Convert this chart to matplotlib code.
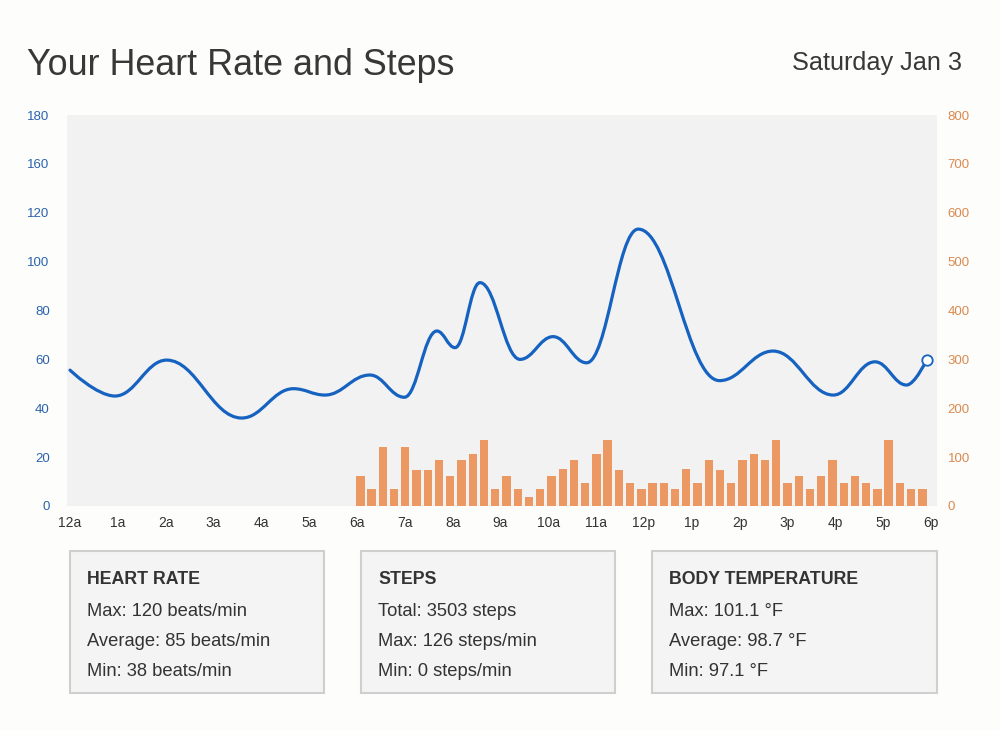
import matplotlib.pyplot as plt
import numpy as np
from matplotlib.patches import Rectangle, PathPatch
from matplotlib.path import Path

plt.rcParams['font.family'] = ['Liberation Sans', 'DejaVu Sans']

# heart rate readings (hour of day, beats/min)
hr_hours = [0.0, 0.94, 2.02, 3.59, 4.67, 5.33, 6.27, 6.99, 7.67, 8.05, 8.57,
            9.41, 10.1, 10.8, 11.88, 13.58, 14.7, 15.96, 16.83, 17.49, 17.91]
hr_values = [55.6, 45, 59.7, 36, 48, 45.4, 53.6, 44.5, 71.6, 64.8, 91.4,
             60, 69.3, 58.6, 113.3, 51.3, 63.4, 45.4, 59, 49.5, 59.7]

# steps per interval, from 6a to 6p
steps = [61, 35, 120, 35, 120, 73, 73, 95, 61, 95,
         106, 135, 35, 61, 35, 18, 35, 61, 76, 95,
         48, 106, 135, 73, 48, 35, 48, 48, 35, 76,
         48, 95, 73, 48, 95, 106, 95, 135, 48, 61,
         35, 61, 95, 48, 61, 48, 35, 135, 48, 35, 35]
steps_start, steps_end = 6.07, 17.82

hour_labels = ['12a', '1a', '2a', '3a', '4a', '5a', '6a', '7a', '8a', '9a',
               '10a', '11a', '12p', '1p', '2p', '3p', '4p', '5p', '6p']
hr_ticks = [0, 20, 40, 60, 80, 100, 120, 140, 160]
hr_tick_labels = ['0', '20', '40', '60', '80', '100', '120', '160', '180']
steps_ticks = [0, 100, 200, 300, 400, 500, 600, 700, 800]

summary = [
    ('HEART RATE', ['Max: 120 beats/min', 'Average: 85 beats/min', 'Min: 38 beats/min']),
    ('STEPS', ['Total: 3503 steps', 'Max: 126 steps/min', 'Min: 0 steps/min']),
    ('BODY TEMPERATURE', ['Max: 101.1 °F', 'Average: 98.7 °F', 'Min: 97.1 °F']),
]

BLUE = '#1662c0'
ORANGE = '#eb9863'
TEXT = '#333333'
W, H = 1000, 731


def spline_path(xs, ys, smoothing=1.5):
    # smooth curve through the points, flat at local extremes
    n = len(xs)
    denom = smoothing + 1
    ctrl = []
    for i in range(n):
        x, y = xs[i], ys[i]
        if i == 0 or i == n - 1:
            ctrl.append(((x, y), (x, y)))
            continue
        lx, ly = xs[i - 1], ys[i - 1]
        nx, ny = xs[i + 1], ys[i + 1]
        lcx = (smoothing * x + lx) / denom
        lcy = (smoothing * y + ly) / denom
        rcx = (smoothing * x + nx) / denom
        rcy = (smoothing * y + ny) / denom
        corr = (rcy - lcy) * (rcx - x) / (rcx - lcx) + y - rcy
        lcy += corr
        rcy += corr
        if lcy > ly and lcy > y:
            lcy = max(ly, y)
            rcy = 2 * y - lcy
        elif lcy < ly and lcy < y:
            lcy = min(ly, y)
            rcy = 2 * y - lcy
        if rcy > ny and rcy > y:
            rcy = max(ny, y)
            lcy = 2 * y - rcy
        elif rcy < ny and rcy < y:
            rcy = min(ny, y)
            lcy = 2 * y - rcy
        ctrl.append(((lcx, lcy), (rcx, rcy)))
    verts = [(xs[0], ys[0])]
    codes = [Path.MOVETO]
    for i in range(1, n):
        verts += [ctrl[i - 1][1], ctrl[i][0], (xs[i], ys[i])]
        codes += [Path.CURVE4] * 3
    return Path(verts, codes)


fig = plt.figure(figsize=(10, 7.31), dpi=100, facecolor='#fdfdfb')
ax2 = fig.add_axes([0.067, 1 - 506 / H, 0.8697, 391 / H])
ax = ax2.twinx()
ax.yaxis.tick_left()
ax2.yaxis.tick_right()
ax.set_zorder(ax2.get_zorder() + 1)
ax.patch.set_visible(False)
ax2.set_facecolor('#f2f2f2')

bar_x = np.linspace(steps_start, steps_end, len(steps))
ax2.bar(bar_x, steps, width=0.174, color=ORANGE, linewidth=0)
ax2.set_ylim(0, 800)
ax2.set_yticks(steps_ticks)

ax.add_patch(PathPatch(spline_path(hr_hours, hr_values), facecolor='none',
                       edgecolor=BLUE, linewidth=2.3, capstyle='round'))
ax.plot(hr_hours[-1], hr_values[-1], 'o', ms=7.5, mfc='white', mec=BLUE, mew=1.3)
ax.set_ylim(0, 160)
ax.set_yticks(hr_ticks)
ax.set_yticklabels(hr_tick_labels)

ax2.set_xlim(-0.063, 18.12)
ax2.set_xticks(range(len(hour_labels)))
ax2.set_xticklabels(hour_labels)

for a in (ax, ax2):
    for s in a.spines.values():
        s.set_visible(False)
ax.tick_params(axis='y', length=0, pad=12.5, labelsize=9.5, labelcolor='#2a62ad')
ax2.tick_params(axis='y', length=0, pad=8, labelsize=9.5, labelcolor='#d98a4f')
ax2.tick_params(axis='x', length=0, pad=7, labelsize=10, labelcolor=TEXT)

fig.text(27 / W, 1 - 75 / H, 'Your Heart Rate and Steps', fontsize=25.8,
         color='#383838', va='baseline', ha='left')
fig.text(962 / W, 1 - 70 / H, 'Saturday Jan 3', fontsize=18.2,
         color='#383838', va='baseline', ha='right')

boxes = [(70, 324), (361, 615), (652, 937)]
for (x0, x1), (head, lines) in zip(boxes, summary):
    fig.add_artist(Rectangle((x0 / W, 1 - 693 / H), (x1 - x0) / W, 142 / H,
                             transform=fig.transFigure, facecolor='#f4f4f5',
                             edgecolor='#cfcfcf', linewidth=1.5))
    tx = (x0 + 17) / W
    fig.text(tx, 1 - 583.5 / H, head, fontsize=12.8, fontweight='bold',
             color=TEXT, va='baseline')
    for k, line in enumerate(lines):
        fig.text(tx, 1 - (616.5 + 29.8 * k) / H, line, fontsize=13.2,
                 color=TEXT, va='baseline')

fig.savefig('out.png', dpi=100, facecolor=fig.get_facecolor())
